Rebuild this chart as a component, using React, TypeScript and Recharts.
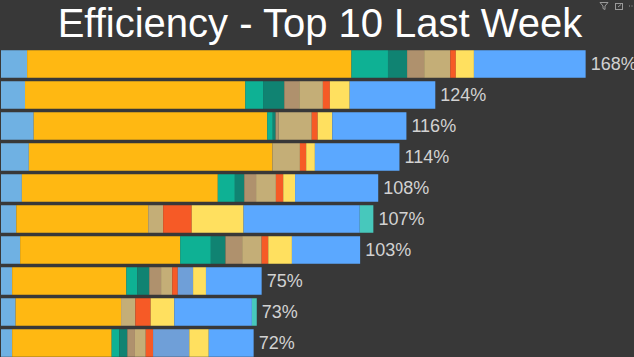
import { BarChart, Bar, XAxis, YAxis, LabelList } from "recharts";

// widths of each segment per row, top row first
const rows = ["r1", "r2", "r3", "r4", "r5", "r6", "r7", "r8", "r9", "r10"];
const totalLabels = ["168%", "124%", "116%", "114%", "108%", "107%", "103%", "75%", "73%", "72%"];

const skyValues = [7.5, 6.9, 9.4, 8.0, 6.0, 4.4, 5.5, 3.2, 4.2, 3.2];
const amberValues = [93.2, 63.3, 67.1, 70.0, 56.3, 37.9, 46.0, 32.8, 30.3, 28.6];
const tealValues = [10.5, 5.1, 1.6, 0, 4.9, 0, 8.8, 3.2, 0, 2.2];
const darkTealValues = [5.5, 6.1, 0.8, 0, 2.7, 0, 4.2, 3.4, 0, 2.3];
const brownValues = [4.9, 4.3, 0.9, 0, 3.4, 0, 4.8, 3.4, 0, 2.2];
const tanValues = [7.5, 6.8, 9.5, 7.9, 5.7, 4.3, 5.6, 3.2, 4.1, 3.1];
const orangeValues = [1.6, 2.0, 1.7, 1.8, 2.1, 8.2, 1.9, 1.6, 4.4, 2.1];
const steelValues = [0, 0, 0, 0, 0, 0, 0, 4.4, 0, 10.4];
const yellowValues = [5.2, 5.7, 4.2, 2.5, 3.4, 14.9, 6.8, 3.7, 6.8, 5.6];
const blueValues = [32.1, 24.6, 21.3, 24.3, 23.9, 33.4, 19.6, 16.0, 22.3, 12.9];
const aquaValues = [0, 0, 0, 0, 0, 3.9, 0, 0, 1.4, 0];

const seriesList = [
  { key: "sky", values: skyValues, color: "#6FB1E3" },
  { key: "amber", values: amberValues, color: "#FFB812" },
  { key: "teal", values: tealValues, color: "#0EB194" },
  { key: "darkTeal", values: darkTealValues, color: "#108372" },
  { key: "brown", values: brownValues, color: "#AF916D" },
  { key: "tan", values: tanValues, color: "#C4AE77" },
  { key: "orange", values: orangeValues, color: "#F65A26" },
  { key: "steel", values: steelValues, color: "#6F9FD8" },
  { key: "yellow", values: yellowValues, color: "#FFE05F" },
  { key: "blue", values: blueValues, color: "#5BA8FF" },
  { key: "aqua", values: aquaValues, color: "#47C8BC" },
];

const data = rows.map((row, i) => {
  // labelSlot is an invisible sliver at the end of the stack, zero bars get no label
  const entry: Record<string, string | number> = { row, label: totalLabels[i], labelSlot: 0.01 };
  seriesList.forEach((s) => {
    entry[s.key] = s.values[i];
  });
  return entry;
});

export default function App() {
  return (
    <div
      style={{
        position: "fixed",
        left: 0,
        top: 0,
        width: 634,
        height: 357,
        overflow: "hidden",
        background: "#383838",
        fontFamily: "'Liberation Sans', Arial, sans-serif",
      }}
    >
      <div
        style={{
          position: "absolute",
          left: 0,
          top: -1,
          width: 640,
          textAlign: "center",
          color: "#FFFFFF",
          fontSize: 40,
          lineHeight: "48px",
          whiteSpace: "nowrap",
        }}
      >
        Efficiency - Top 10 Last Week
      </div>
      <svg
        style={{ position: "absolute", left: 598, top: 0 }}
        width={36}
        height={12}
        fill="none"
        stroke="#9A9A9A"
        strokeWidth={1}
      >
        <path d="M2 2.5 H10 L7 6 V9.5 L5 8.5 V6 Z" />
        <rect x={17.5} y={3.5} width={7} height={6} />
        <path d="M20 7 L23 4.5" />
        <path d="M31 6 H32 M33.5 6 H34.5" />
      </svg>
      <div style={{ position: "absolute", left: 0, top: 0 }}>
        <BarChart
          width={634}
          height={359}
          data={data}
          layout="vertical"
          barCategoryGap={0}
          margin={{ top: 48.25, right: 0, bottom: 0.75, left: 1 }}
        >
          <XAxis type="number" hide domain={[0, 181.9]} />
          <YAxis type="category" dataKey="row" hide />
          {seriesList.map((s) => (
            <Bar
              key={s.key}
              dataKey={s.key}
              stackId="a"
              fill={s.color}
              barSize={27.5}
              isAnimationActive={false}
            />
          ))}
          <Bar dataKey="labelSlot" stackId="a" fill="none" barSize={27.5} isAnimationActive={false}>
            <LabelList
              dataKey="label"
              position="right"
              offset={5}
              fill="#D2D2D2"
              fontSize={18}
              fontFamily="'Liberation Sans', Arial, sans-serif"
            />
          </Bar>
        </BarChart>
      </div>
    </div>
  );
}
